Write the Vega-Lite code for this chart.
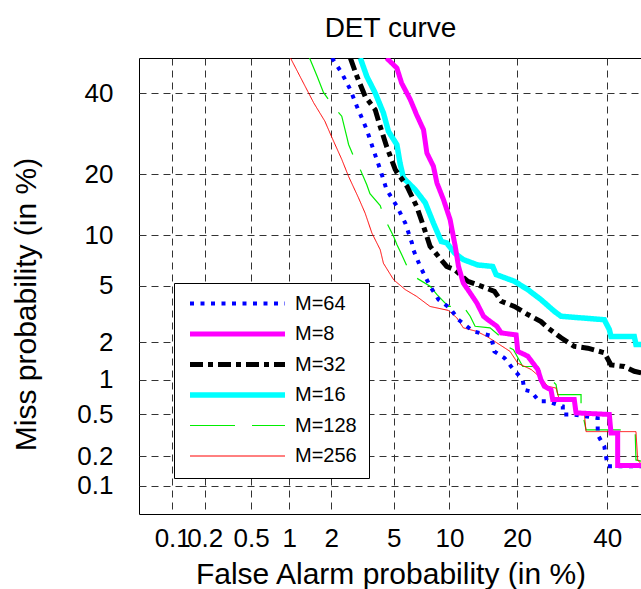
{
  "$schema": "https://vega.github.io/schema/vega-lite/v6.json",
  "autosize": {"type": "none"},
  "padding": {"left": 139, "top": 58, "right": -1, "bottom": 75},
  "width": 503,
  "height": 456,
  "title": {"text": "DET curve", "fontSize": 28, "fontWeight": "normal", "font": "Liberation Sans", "color": "black", "baseline": "alphabetic", "offset": -7, "anchor": "middle", "frame": "group"},
  "config": {
    "font": "Liberation Sans",
    "view": {"stroke": "black", "strokeWidth": 1},
    "axis": {"grid": true, "gridColor": "#333333", "gridDash": [7, 5], "gridOpacity": 1, "gridWidth": 1, "domain": false, "ticks": false, "labelColor": "black", "labelFontSize": 26, "labelFont": "Liberation Sans", "titleColor": "black", "titleFontSize": 30, "titleFont": "Liberation Sans", "titleFontWeight": "normal", "labelOverlap": false, "labelBound": false, "labelFlush": false}
  },
  "data": {"values": [
    {"s":"M=16","fa":3.12,"miss":50},{"s":"M=16","fa":3.43,"miss":44.7},{"s":"M=16","fa":3.87,"miss":40.0},{"s":"M=16","fa":4.34,"miss":34.55},{"s":"M=16","fa":4.65,"miss":29.8},{"s":"M=16","fa":5.21,"miss":26.56},{"s":"M=16","fa":5.43,"miss":22.42},{"s":"M=16","fa":5.68,"miss":19.31},{"s":"M=16","fa":6.60,"miss":17.09},{"s":"M=16","fa":7.50,"miss":14.77},{"s":"M=16","fa":8.28,"miss":11.65},{"s":"M=16","fa":9.09,"miss":9.26},{"s":"M=16","fa":9.68,"miss":9.08},{"s":"M=16","fa":10.59,"miss":7.94},{"s":"M=16","fa":11.67,"miss":7.26},{"s":"M=16","fa":13.62,"miss":6.74},{"s":"M=16","fa":15.87,"miss":6.60},{"s":"M=16","fa":16.42,"miss":5.88},{"s":"M=16","fa":19.55,"miss":5.33},{"s":"M=16","fa":22.04,"miss":4.71},{"s":"M=16","fa":24.68,"miss":4.04},{"s":"M=16","fa":27.5,"miss":3.36},{"s":"M=16","fa":28.99,"miss":3.10},{"s":"M=16","fa":39.29,"miss":2.93},{"s":"M=16","fa":40.55,"miss":2.49},{"s":"M=16","fa":40.98,"miss":2.21},{"s":"M=16","fa":46.96,"miss":2.21},{"s":"M=16","fa":47.4,"miss":1.92},{"s":"M=16","fa":49.5,"miss":1.92},
    {"s":"M=32","fa":2.69,"miss":50},{"s":"M=32","fa":2.97,"miss":44.7},{"s":"M=32","fa":3.35,"miss":39.1},{"s":"M=32","fa":3.87,"miss":35.4},{"s":"M=32","fa":4.15,"miss":31.05},{"s":"M=32","fa":4.53,"miss":26.2},{"s":"M=32","fa":5.10,"miss":21.0},{"s":"M=32","fa":5.95,"miss":17.7},{"s":"M=32","fa":6.73,"miss":14.2},{"s":"M=32","fa":7.34,"miss":11.2},{"s":"M=32","fa":7.95,"miss":8.69},{"s":"M=32","fa":9.68,"miss":6.60},{"s":"M=32","fa":10.59,"miss":6.31},{"s":"M=32","fa":12.27,"miss":5.33},{"s":"M=32","fa":14.12,"miss":4.96},{"s":"M=32","fa":16.14,"miss":4.59},{"s":"M=32","fa":17.25,"miss":3.94},{"s":"M=32","fa":19.55,"miss":3.63},{"s":"M=32","fa":22.04,"miss":3.19},{"s":"M=32","fa":24.68,"miss":2.84},{"s":"M=32","fa":26.1,"miss":2.56},{"s":"M=32","fa":28.99,"miss":2.16},{"s":"M=32","fa":32.0,"miss":1.86},{"s":"M=32","fa":35.21,"miss":1.80},{"s":"M=32","fa":39.29,"miss":1.66},{"s":"M=32","fa":40.98,"miss":1.33},{"s":"M=32","fa":44.38,"miss":1.29},{"s":"M=32","fa":46.96,"miss":1.18},{"s":"M=32","fa":49.5,"miss":1.13},
    {"s":"M=128","fa":1.41,"miss":50},{"s":"M=128","fa":1.60,"miss":44.7},{"s":"M=128","fa":1.77,"miss":40.2},{"s":"M=128","fa":2.06,"miss":36.5},{"s":"M=128","fa":2.36,"miss":33.7},{"s":"M=128","fa":2.56,"miss":28.2},{"s":"M=128","fa":2.62,"miss":26.6},{"s":"M=128","fa":2.84,"miss":23.7},{"s":"M=128","fa":3.12,"miss":21.0},{"s":"M=128","fa":3.43,"miss":18.0},{"s":"M=128","fa":3.59,"miss":16.35},{"s":"M=128","fa":4.15,"miss":14.3},{"s":"M=128","fa":4.44,"miss":12.15},{"s":"M=128","fa":4.99,"miss":9.86},{"s":"M=128","fa":5.21,"miss":8.88},{"s":"M=128","fa":5.55,"miss":7.77},{"s":"M=128","fa":6.07,"miss":6.31},{"s":"M=128","fa":6.73,"miss":5.59},{"s":"M=128","fa":7.95,"miss":4.96},{"s":"M=128","fa":8.64,"miss":4.36},{"s":"M=128","fa":9.86,"miss":3.63},{"s":"M=128","fa":11.67,"miss":3.63},{"s":"M=128","fa":12.58,"miss":3.10},{"s":"M=128","fa":13.25,"miss":2.63},{"s":"M=128","fa":15.46,"miss":2.56},{"s":"M=128","fa":17.09,"miss":2.21},{"s":"M=128","fa":18.18,"miss":1.86},{"s":"M=128","fa":19.37,"miss":1.75},{"s":"M=128","fa":21.08,"miss":1.29},{"s":"M=128","fa":24.02,"miss":1.29},{"s":"M=128","fa":24.68,"miss":1.14},{"s":"M=128","fa":26.1,"miss":1.067},{"s":"M=128","fa":27.87,"miss":0.916},{"s":"M=128","fa":28.25,"miss":0.751},{"s":"M=128","fa":33.6,"miss":0.751},{"s":"M=128","fa":33.6,"miss":0.592},{"s":"M=128","fa":34.8,"miss":0.361},{"s":"M=128","fa":43.1,"miss":0.361},{"s":"M=128","fa":47.2,"miss":0.347},{"s":"M=128","fa":47.4,"miss":0.184},{"s":"M=128","fa":49.5,"miss":0.176},
    {"s":"M=256","fa":1.02,"miss":50},{"s":"M=256","fa":1.31,"miss":41.9},{"s":"M=256","fa":1.51,"miss":37.3},{"s":"M=256","fa":1.81,"miss":32.4},{"s":"M=256","fa":2.03,"miss":28.2},{"s":"M=256","fa":2.36,"miss":23.2},{"s":"M=256","fa":2.62,"miss":19.6},{"s":"M=256","fa":3.04,"miss":15.6},{"s":"M=256","fa":3.35,"miss":13.1},{"s":"M=256","fa":3.69,"miss":10.3},{"s":"M=256","fa":4.15,"miss":8.3},{"s":"M=256","fa":4.34,"miss":6.9},{"s":"M=256","fa":4.99,"miss":5.45},{"s":"M=256","fa":5.82,"miss":4.71},{"s":"M=256","fa":6.73,"miss":4.25},{"s":"M=256","fa":7.95,"miss":3.63},{"s":"M=256","fa":9.86,"miss":3.41},{"s":"M=256","fa":10.87,"miss":3.02},{"s":"M=256","fa":11.67,"miss":2.56},{"s":"M=256","fa":13.49,"miss":2.41},{"s":"M=256","fa":14.97,"miss":2.21},{"s":"M=256","fa":16.53,"miss":1.98},{"s":"M=256","fa":18.77,"miss":1.70},{"s":"M=256","fa":20.16,"miss":1.37},{"s":"M=256","fa":22.7,"miss":1.22},{"s":"M=256","fa":24.68,"miss":1.04},{"s":"M=256","fa":26.1,"miss":0.883},{"s":"M=256","fa":27.87,"miss":0.855},{"s":"M=256","fa":28.61,"miss":0.679},{"s":"M=256","fa":32.0,"miss":0.679},{"s":"M=256","fa":32.82,"miss":0.517},{"s":"M=256","fa":34.37,"miss":0.517},{"s":"M=256","fa":34.8,"miss":0.347},{"s":"M=256","fa":47.4,"miss":0.347},{"s":"M=256","fa":47.85,"miss":0.184},{"s":"M=256","fa":49.5,"miss":0.155},
    {"s":"M=64","fa":2.03,"miss":50},{"s":"M=64","fa":2.36,"miss":45.7},{"s":"M=64","fa":2.69,"miss":40.95},{"s":"M=64","fa":2.97,"miss":36.3},{"s":"M=64","fa":3.43,"miss":30.2},{"s":"M=64","fa":3.77,"miss":25.4},{"s":"M=64","fa":4.15,"miss":21.0},{"s":"M=64","fa":4.53,"miss":17.1},{"s":"M=64","fa":5.21,"miss":14.2},{"s":"M=64","fa":5.82,"miss":11.65},{"s":"M=64","fa":6.34,"miss":9.08},{"s":"M=64","fa":6.46,"miss":8.30},{"s":"M=64","fa":7.04,"miss":6.60},{"s":"M=64","fa":7.95,"miss":4.96},{"s":"M=64","fa":8.80,"miss":4.04},{"s":"M=64","fa":10.07,"miss":3.53},{"s":"M=64","fa":11.07,"miss":2.93},{"s":"M=64","fa":13.02,"miss":2.41},{"s":"M=64","fa":15.6,"miss":2.24},{"s":"M=64","fa":16.14,"miss":1.70},{"s":"M=64","fa":17.80,"miss":1.51},{"s":"M=64","fa":18.95,"miss":1.29},{"s":"M=64","fa":21.08,"miss":1.0},{"s":"M=64","fa":21.37,"miss":0.824},{"s":"M=64","fa":22.7,"miss":0.798},{"s":"M=64","fa":24.33,"miss":0.655},{"s":"M=64","fa":26.1,"miss":0.655},{"s":"M=64","fa":29.38,"miss":0.592},{"s":"M=64","fa":29.38,"miss":0.5},{"s":"M=64","fa":31.64,"miss":0.5},{"s":"M=64","fa":37.65,"miss":0.463},{"s":"M=64","fa":37.65,"miss":0.325},{"s":"M=64","fa":39.29,"miss":0.25},{"s":"M=64","fa":40.15,"miss":0.159},{"s":"M=64","fa":49.5,"miss":0.159},
    {"s":"M=8","fa":4.53,"miss":50},{"s":"M=8","fa":5.21,"miss":47.1},{"s":"M=8","fa":5.55,"miss":42.8},{"s":"M=8","fa":6.21,"miss":38.2},{"s":"M=8","fa":6.73,"miss":34.1},{"s":"M=8","fa":7.34,"miss":30.2},{"s":"M=8","fa":7.65,"miss":24.6},{"s":"M=8","fa":8.28,"miss":21.7},{"s":"M=8","fa":8.64,"miss":18.3},{"s":"M=8","fa":9.33,"miss":15.3},{"s":"M=8","fa":10.07,"miss":12.15},{"s":"M=8","fa":10.67,"miss":8.69},{"s":"M=8","fa":11.07,"miss":6.60},{"s":"M=8","fa":11.67,"miss":5.20},{"s":"M=8","fa":12.58,"miss":4.47},{"s":"M=8","fa":13.49,"miss":3.84},{"s":"M=8","fa":14.47,"miss":3.10},{"s":"M=8","fa":15.12,"miss":2.93},{"s":"M=8","fa":16.53,"miss":2.63},{"s":"M=8","fa":17.25,"miss":2.35},{"s":"M=8","fa":19.85,"miss":2.27},{"s":"M=8","fa":20.16,"miss":1.70},{"s":"M=8","fa":22.04,"miss":1.56},{"s":"M=8","fa":24.02,"miss":1.22},{"s":"M=8","fa":24.68,"miss":1.0},{"s":"M=8","fa":25.38,"miss":0.883},{"s":"M=8","fa":26.79,"miss":0.824},{"s":"M=8","fa":27.15,"miss":0.679},{"s":"M=8","fa":32.0,"miss":0.679},{"s":"M=8","fa":32.42,"miss":0.517},{"s":"M=8","fa":40.55,"miss":0.5},{"s":"M=8","fa":40.98,"miss":0.337},{"s":"M=8","fa":42.68,"miss":0.337},{"s":"M=8","fa":42.68,"miss":0.162},{"s":"M=8","fa":49.5,"miss":0.162}
  ]},
  "transform": [
    {"calculate": "quantileNormal(datum.fa / 100)", "as": "zx"},
    {"calculate": "quantileNormal(datum.miss / 100)", "as": "zy"}
  ],
  "mark": {"type": "line", "clip": true, "strokeCap": "butt"},
  "encoding": {
    "x": {"field": "zx", "type": "quantitative",
      "scale": {"domain": [-3.307, -0.0258], "nice": false, "zero": false},
      "axis": {"values": [-3.0902, -2.8782, -2.5758, -2.3263, -2.0537, -1.6449, -1.2816, -0.8416, -0.2533],
        "labelExpr": "'' + round(cumulativeNormal(datum.value) * 1000) / 10",
        "labelPadding": 11, "title": "False Alarm probability (in %)", "titleBaseline": "alphabetic", "titleY": 69}},
    "y": {"field": "zy", "type": "quantitative",
      "scale": {"domain": [-3.295, 0], "nice": false, "zero": false},
      "axis": {"values": [-3.0902, -2.8782, -2.5758, -2.3263, -2.0537, -1.6449, -1.2816, -0.8416, -0.2533],
        "labelExpr": "'' + round(cumulativeNormal(datum.value) * 1000) / 10",
        "labelPadding": 26, "title": "Miss probability (in %)", "titleBaseline": "alphabetic", "titleX": -104, "titleY": 246}},
    "color": {"field": "s", "type": "nominal",
      "scale": {"domain": ["M=64", "M=8", "M=32", "M=16", "M=128", "M=256"], "range": ["#0000ff", "#ff00ff", "#000000", "#00ffff", "#00ee00", "#ff0000"]},
      "legend": {"orient": "none", "legendX": 35, "legendY": 225, "title": null, "padding": 12, "strokeColor": "black", "fillColor": "white", "cornerRadius": 0, "symbolType": "stroke", "symbolSize": 9025, "clipHeight": 17, "rowPadding": 9.5, "labelFontSize": 20, "labelOffset": 7, "symbolOffset": 1, "labelColor": "black", "labelFont": "Liberation Sans"}},
    "strokeDash": {"field": "s", "type": "nominal",
      "scale": {"domain": ["M=64", "M=8", "M=32", "M=16", "M=128", "M=256"], "range": [[4, 6.5], [1, 0], [13, 5, 5, 5], [1, 0], [45, 17], [1, 0]]}},
    "strokeWidth": {"field": "s", "type": "nominal",
      "scale": {"type": "ordinal", "domain": ["M=64", "M=8", "M=32", "M=16", "M=128", "M=256"], "range": [4, 5, 5, 5.5, 1.2, 1]}},
    "order": {"value": null}
  }
}
